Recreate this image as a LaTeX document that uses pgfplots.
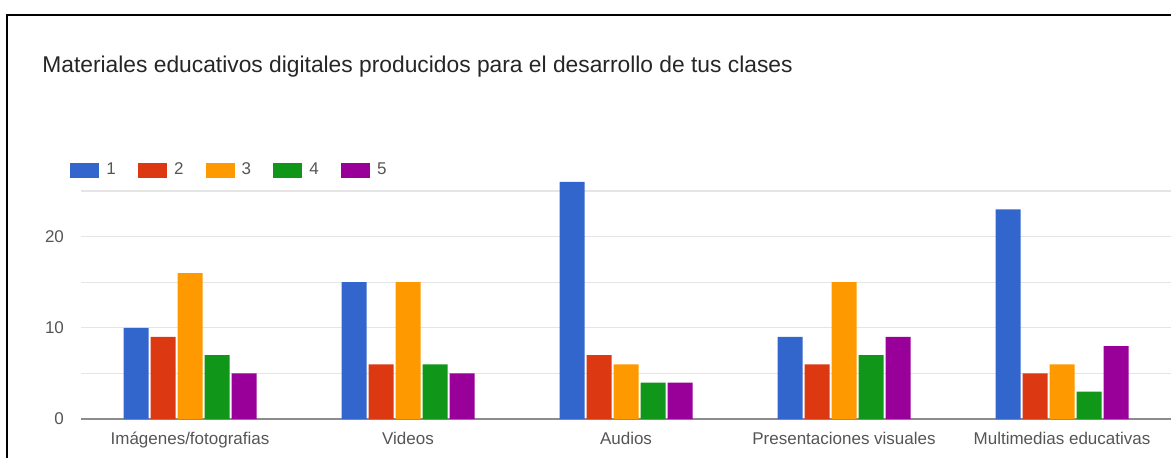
\documentclass[border=0pt]{standalone}
\usepackage{fontspec}
\setmainfont{Liberation Sans}
\usepackage{pgfplots}
\usepackage{pgfplotstable}
\pgfplotsset{compat=1.18}

\definecolor{gblue}{HTML}{3366CC}
\definecolor{gred}{HTML}{DC3912}
\definecolor{gorange}{HTML}{FF9900}
\definecolor{ggreen}{HTML}{109618}
\definecolor{gpurple}{HTML}{990099}
\definecolor{labelgray}{HTML}{555555}

% respuestas por categoria (1 a 5)
\pgfplotstableread{
x a  b c  d e
0 10 9 16 7 5
1 15 6 15 6 5
2 26 7 6  4 4
3 9  6 15 7 9
4 23 5 6  3 8
}\datos

\begin{document}
\begin{tikzpicture}
\useasboundingbox (-40.5pt,-19pt) rectangle (545pt,209.5pt);
\draw[line width=1.2pt] (-37pt,-30pt) -- (-37pt,202pt) -- (560pt,202pt);
\node[anchor=west, inner sep=0pt, text=black!85,
      font=\fontsize{11.4}{13}\selectfont] at (-19.5pt,176pt)
  {Materiales educativos digitales producidos para el desarrollo de tus clases};
\begin{axis}[
  at={(0pt,0pt)}, anchor=south west,
  scale only axis, width=545pt, height=123.1pt,
  ybar=1pt, bar width=12.5pt,
  xmin=-0.5, xmax=4.5, ymin=0, ymax=27,
  xtick={0,...,4},
  xticklabels={Imágenes/fotografias,Videos,Audios,Presentaciones visuales,Multimedias educativas},
  ytick={0,5,...,25},
  yticklabels={0,,10,,20,},
  ymajorgrids, grid style={black!10, line width=0.6pt},
  major tick length=0pt,
  axis x line=bottom, axis y line=left,
  x axis line style={-, draw=black!45, line width=0.8pt},
  y axis line style={draw=none},
  ticklabel style={font=\fontsize{8.5}{10}\selectfont, text=labelgray},
  yticklabel style={xshift=-5pt},
  xticklabel style={yshift=-3pt},
  legend columns=5,
  legend image code/.code={\fill[#1,draw=none] (0pt,-3.8pt) rectangle (14.5pt,3.8pt);},
  legend style={at={(axis description cs:-0.0101,1.01)}, anchor=west,
    draw=none, fill=none, inner sep=0pt,
    font=\fontsize{8.5}{10}\selectfont, text=labelgray,
    /tikz/every odd column/.append style={column sep=1.5pt},
    /tikz/every even column/.append style={column sep=9.1pt}},
  clip=false,
]
\addplot[fill=gblue, draw=none] table[x=x,y=a]{\datos};
\addplot[fill=gred, draw=none] table[x=x,y=b]{\datos};
\addplot[fill=gorange, draw=none] table[x=x,y=c]{\datos};
\addplot[fill=ggreen, draw=none] table[x=x,y=d]{\datos};
\addplot[fill=gpurple, draw=none] table[x=x,y=e]{\datos};
\legend{1,2,3,4,5}
\end{axis}
\end{tikzpicture}
\end{document}
